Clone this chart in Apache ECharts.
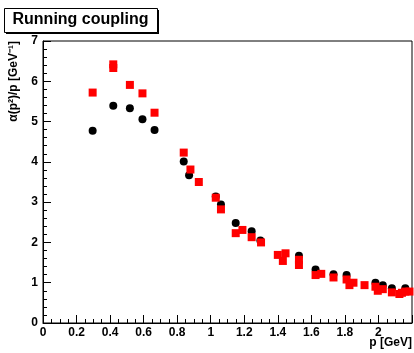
<!DOCTYPE html>
<html>
<head>
<meta charset="utf-8">
<script src="https://cdn.jsdelivr.net/npm/echarts@6/dist/echarts.min.js"></script>
<style>
html,body{margin:0;padding:0;background:#fff;}
#c{width:414px;height:353px;}
</style>
</head>
<body>
<div id="c"></div>
<script>
const titleText = 'Running coupling';
const xTitle = 'p [GeV]';
const yTitle = 'α(p²)/p [GeV⁻¹]';

const blackX = [0.296,0.419,0.518,0.593,0.665,0.839,0.871,1.03,1.061,1.149,1.244,1.296,1.526,1.625,1.732,1.81,1.982,2.026,2.08,2.16];
const blackY = [4.77,5.39,5.33,5.06,4.79,4.01,3.67,3.14,2.94,2.48,2.28,2.05,1.67,1.33,1.21,1.19,1.00,0.94,0.86,0.86];

const redX = [0.296,0.419,0.419,0.518,0.593,0.665,0.839,0.879,0.929,1.03,1.061,1.149,1.189,1.244,1.30,1.40,1.43,1.446,1.526,1.526,1.625,1.659,1.732,1.81,1.827,1.851,1.917,1.982,1.996,2.026,2.08,2.125,2.14,2.16,2.185];
const redY = [5.72,6.33,6.42,5.91,5.70,5.22,4.23,3.81,3.50,3.11,2.82,2.23,2.31,2.13,2.00,1.69,1.54,1.73,1.57,1.44,1.19,1.22,1.13,1.08,0.94,1.00,0.94,0.90,0.80,0.84,0.76,0.72,0.75,0.78,0.78];

const blackData = blackX.map((x,i)=>[x,blackY[i]]);
const redData = redX.map((x,i)=>[x,redY[i]]);

const chart = echarts.init(document.getElementById('c'), null, {renderer:'canvas'});
const axisFont = {color:'#000', fontFamily:'Liberation Sans, Arial, sans-serif', fontWeight:'bold', fontSize:12};
chart.setOption({
  animation:false,
  backgroundColor:'#fff',
  grid:{left:43,right:2,top:41,bottom:30,show:true,borderColor:'#000',borderWidth:1,containLabel:false,outerBoundsMode:'none'},
  xAxis:{
    type:'value',min:0,max:2.2,interval:0.2,
    axisLine:{show:true,lineStyle:{color:'#000',width:1}},
    axisTick:{show:true,inside:true,length:8,lineStyle:{color:'#000'}},
    minorTick:{show:true,splitNumber:4,length:4,lineStyle:{color:'#000'}},
    splitLine:{show:false},
    axisLabel:Object.assign({margin:4,showMaxLabel:false},axisFont)
  },
  yAxis:{
    type:'value',min:0,max:7,interval:1,
    axisLine:{show:true,lineStyle:{color:'#000',width:1}},
    axisTick:{show:true,inside:true,length:8,lineStyle:{color:'#000'}},
    minorTick:{show:true,splitNumber:5,length:4,lineStyle:{color:'#000'}},
    splitLine:{show:false},
    axisLabel:Object.assign({margin:5},axisFont)
  },
  series:[
    {type:'scatter',data:blackData,symbol:'circle',symbolSize:8,itemStyle:{color:'#000',opacity:1},emphasis:{disabled:true}},
    {type:'scatter',data:redData,symbol:'rect',symbolSize:8,itemStyle:{color:'#ff0000',opacity:1},emphasis:{disabled:true}}
  ],
  graphic:[
    {type:'rect',left:6,top:10,shape:{width:153,height:24},style:{fill:'#000'}},
    {type:'rect',left:4,top:8,shape:{width:153,height:24},style:{fill:'#fff',stroke:'#000',lineWidth:1}},
    {type:'text',x:80.5,y:20,style:{text:titleText,fill:'#000',font:'bold 16px "Liberation Sans", Arial, sans-serif',textAlign:'center',textVerticalAlign:'middle'}},
    {type:'text',x:412,y:343,style:{text:xTitle,fill:'#000',font:'bold 12px "Liberation Sans", Arial, sans-serif',textAlign:'right',textVerticalAlign:'middle'}},
    {type:'text',x:14,y:41,rotation:Math.PI/2,style:{text:yTitle,fill:'#000',font:'bold 12px "Liberation Sans", Arial, sans-serif',textAlign:'right',textVerticalAlign:'middle'}}
  ]
});
</script>
</body>
</html>
